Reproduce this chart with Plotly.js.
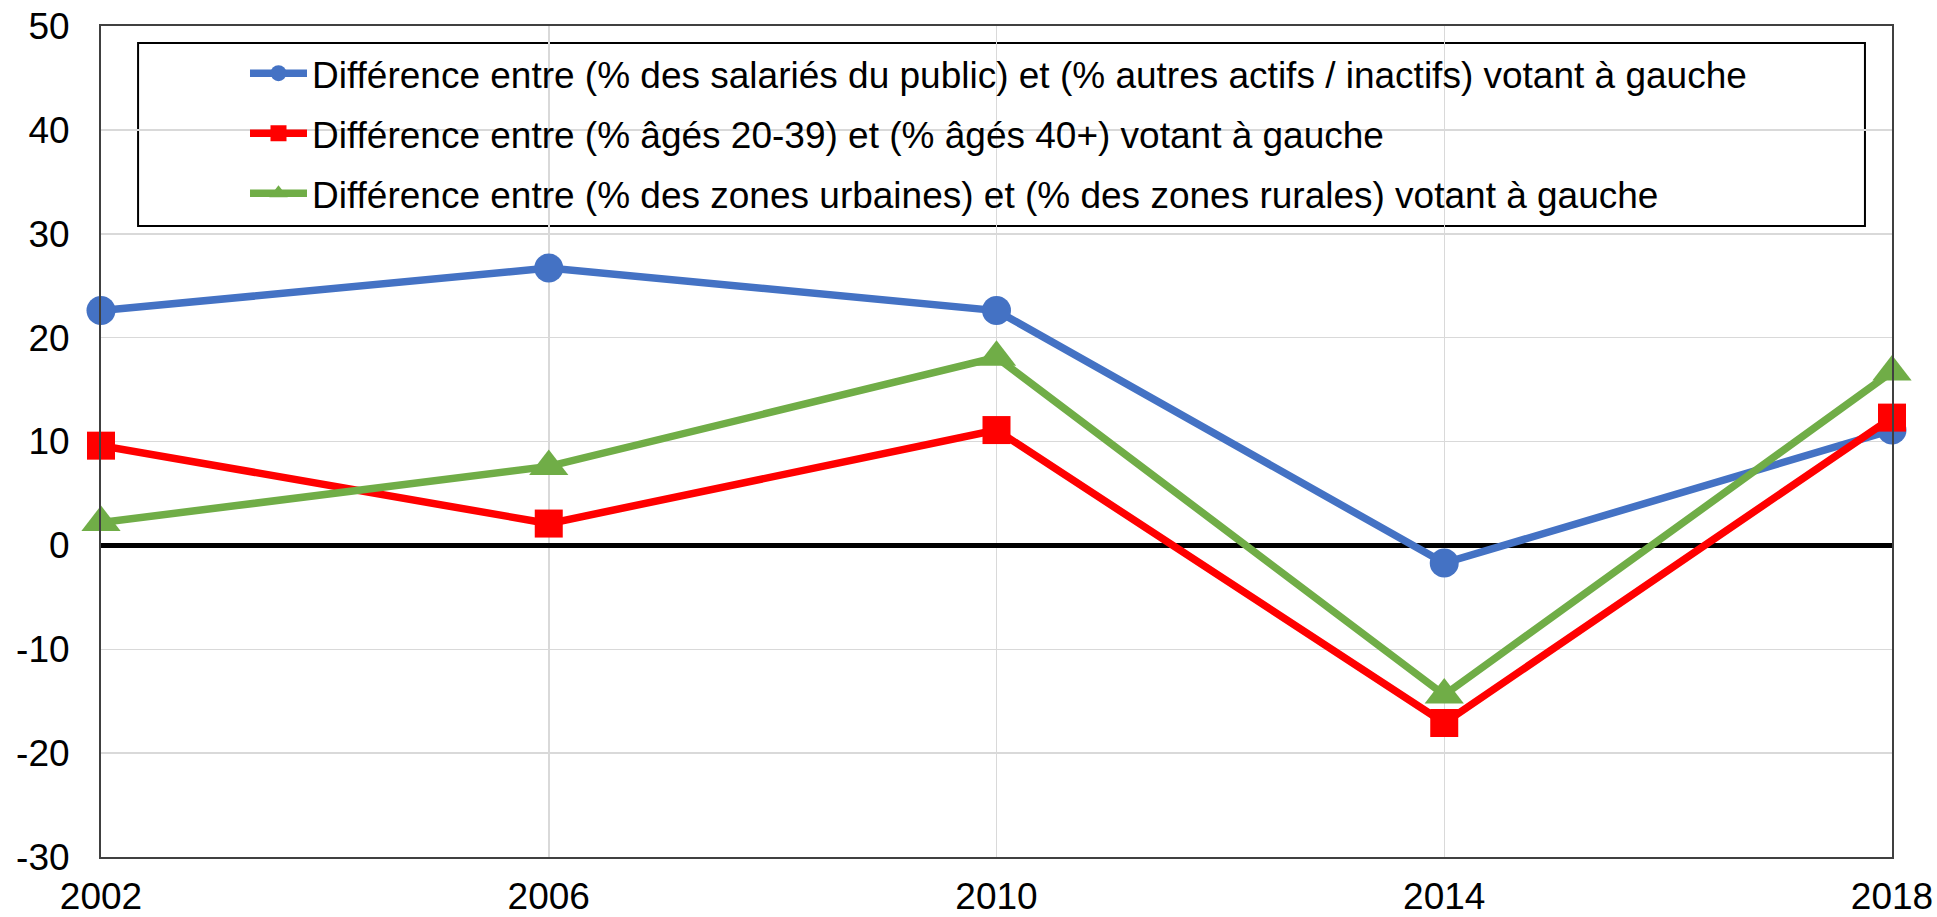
<!DOCTYPE html>
<html>
<head>
<meta charset="utf-8">
<script src="https://cdn.plot.ly/plotly-3.0.1.min.js"></script>
<style>
  html, body { margin: 0; padding: 0; background: #fff; }
  #chart { width: 1937px; height: 917px; }
</style>
</head>
<body>
<div id="chart"></div>
<script>
const years = [2002, 2006, 2010, 2014, 2018];
const publicSector = [22.6, 26.7, 22.6, -1.7, 11.1];
const youngVsOld = [9.6, 2.1, 11.1, -17.1, 12.3];
const urbanVsRural = [2.2, 7.6, 18.1, -14.4, 16.7];

const seriesNames = [
  "Différence entre (% des salariés du public) et (% autres actifs / inactifs) votant à gauche",
  "Différence entre (% âgés 20-39) et (% âgés 40+) votant à gauche",
  "Différence entre (% des zones urbaines) et (% des zones rurales) votant à gauche"
];
const yTicks = [-30, -20, -10, 0, 10, 20, 30, 40, 50];

const FONT = "Liberation Sans, Arial, sans-serif";
const FS = 37;

const traces = [
  {
    x: years, y: publicSector, name: seriesNames[0], legendgroup: "a",
    mode: "lines+markers", type: "scatter", cliponaxis: false,
    line: { color: "#4472C4", width: 7.5 },
    marker: { symbol: "circle", size: 29, color: "#4472C4" }
  },
  {
    x: years, y: youngVsOld, name: seriesNames[1], legendgroup: "b",
    mode: "lines+markers", type: "scatter", cliponaxis: false,
    line: { color: "#FF0000", width: 7.5 },
    marker: { symbol: "square", size: 28, color: "#FF0000" }
  },
  {
    x: years, y: urbanVsRural, name: seriesNames[2], legendgroup: "c",
    mode: "lines+markers", type: "scatter", cliponaxis: false,
    line: { color: "#70AD47", width: 7.5 },
    marker: { symbol: "triangle-up", size: 34, color: "#70AD47" }
  }
];

const layout = {
  width: 1937, height: 917,
  margin: { l: 101, r: 45, t: 26, b: 60, pad: 0 },
  paper_bgcolor: "#ffffff", plot_bgcolor: "#ffffff",
  font: { family: FONT, size: FS, color: "#000000" },
  showlegend: true,
  legend: {
    x: 0.0804, y: 0.980, xanchor: "left", yanchor: "top",
    bgcolor: "rgba(0,0,0,0)", borderwidth: 0,
    font: { family: FONT, size: FS, color: "#000000" },
    itemwidth: 57, tracegroupgap: 9, itemsizing: "trace"
  },
  xaxis: {
    range: [2002, 2018], tickmode: "array", tickvals: years, ticktext: years.map(String),
    showgrid: true, gridcolor: "#d9d9d9", gridwidth: 1.5,
    showline: true, linecolor: "#404040", linewidth: 2, mirror: true,
    zeroline: false, ticks: "", ticklabelstandoff: 6,
    tickfont: { family: FONT, size: FS, color: "#000000" }
  },
  yaxis: {
    range: [-30, 50], tickmode: "array", tickvals: yTicks, ticktext: yTicks.map(String),
    showgrid: true, gridcolor: "#d9d9d9", gridwidth: 1.5,
    showline: true, linecolor: "#404040", linewidth: 2, mirror: true,
    zeroline: true, zerolinecolor: "#000000", zerolinewidth: 4.5,
    ticks: "", ticklabelstandoff: 22,
    tickfont: { family: FONT, size: FS, color: "#000000" }
  },
  shapes: [
    {
      type: "rect", xref: "paper", yref: "paper", layer: "between",
      x0: 0.0207, x1: 0.9849, y0: 0.7593, y1: 0.9795,
      line: { color: "#000000", width: 2 }, fillcolor: "#ffffff"
    }
  ]
};

Plotly.newPlot("chart", traces, layout, { displayModeBar: false, staticPlot: true });
</script>
</body>
</html>
